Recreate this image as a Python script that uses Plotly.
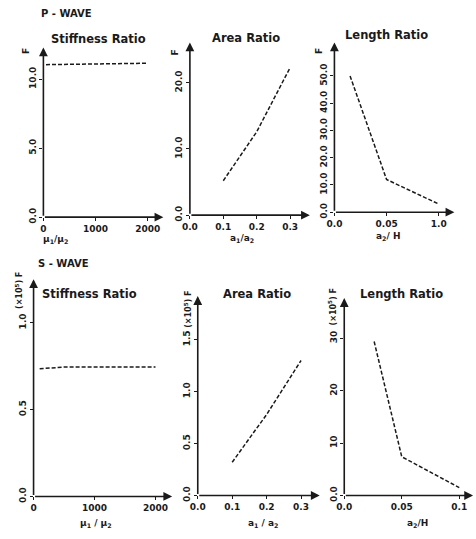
import plotly.graph_objects as go

W, H = 476, 539

# ---------------- data ----------------
p_stiff_x = [50, 500, 1000, 1500, 2000]
p_stiff_y = [11.05, 11.08, 11.1, 11.12, 11.15]
p_area_x = [0.1, 0.2, 0.3]
p_area_y = [5.2, 12.6, 22.3]
p_len_x = [0.015, 0.05, 0.1]
p_len_y = [50.0, 12.0, 3.0]

s_stiff_x = [100, 500, 1000, 1500, 2000]
s_stiff_y = [0.735, 0.745, 0.745, 0.745, 0.745]
s_area_x = [0.1, 0.2, 0.3]
s_area_y = [0.32, 0.78, 1.30]
s_len_x = [0.026, 0.05, 0.1]
s_len_y = [29.4, 7.4, 1.5]

# tick labels
p_stiff_xt = ([0, 1000, 2000], ["0", "1000", "2000"])
p_stiff_yt = ([0, 5, 10], ["0.0", "5.0", "10.0"])
p_area_xt = ([0, 0.1, 0.2, 0.3], ["0.0", "0.1", "0.2", "0.3"])
p_area_yt = ([0, 10, 20], ["0.0", "10.0", "20.0"])
p_len_xt = ([0, 0.05, 0.1], ["0.0", "0.05", "1.0"])
p_len_yt = ([0, 10, 20, 30, 40, 50], ["0.0", "10.0", "20.0", "30.0", "40.0", "50.0"])
s_stiff_xt = ([0, 1000, 2000], ["0", "1000", "2000"])
s_stiff_yt = ([0, 0.5, 1.0], ["0.0", "0.5", "1.0"])
s_area_xt = ([0, 0.1, 0.2, 0.3], ["0.0", "0.1", "0.2", "0.3"])
s_area_yt = ([0, 0.5, 1.0, 1.5], ["0.0", "0.5", "1.0", "1.5"])
s_len_xt = ([0, 0.05, 0.1], ["0.0", "0.05", "0.1"])
s_len_yt = ([0, 10, 20, 30], ["0.0", "10", "20", "30"])

FONT = "DejaVu Sans"
INK = "#1a1a1a"

def px_x(v):
    return v / W

def px_y(v):
    return 1 - v / H

# panel layout: (x data, y data, xticks, yticks, x px domain, y px domain (top,bottom), xrange, yrange)
panels = [
    (p_stiff_x, p_stiff_y, p_stiff_xt, p_stiff_yt, (36, 158), (48, 220), (0, 2300), (0, 12.3)),
    (p_area_x, p_area_y, p_area_xt, p_area_yt, (185, 307), (43, 218), (0, 0.359), (0, 26.1)),
    (p_len_x, p_len_y, p_len_xt, p_len_yt, (332, 454), (43, 215), (0, 0.115), (0, 62.3)),
    (s_stiff_x, s_stiff_y, s_stiff_xt, s_stiff_yt, (26, 167), (283, 503), (0, 2274), (0, 1.25)),
    (s_area_x, s_area_y, s_area_xt, s_area_yt, (193, 317), (300, 502), (0, 0.354), (0, 1.92)),
    (s_len_x, s_len_y, s_len_xt, s_len_yt, (342, 473), (302, 502), (0, 0.112), (0, 37.7)),
]

fig = go.Figure()
layout = dict(
    width=W, height=H, margin=dict(l=0, r=0, t=0, b=0),
    paper_bgcolor="white", plot_bgcolor="white", showlegend=False,
    font=dict(family=FONT, color=INK, size=9),
)
annotations = []

for i, (xs, ys, xt, yt, xd, yd, xr, yr) in enumerate(panels, start=1):
    xa = "x" if i == 1 else f"x{i}"
    ya = "y" if i == 1 else f"y{i}"
    fig.add_trace(go.Scatter(x=xs, y=ys, mode="lines", xaxis=xa, yaxis=ya,
                             line=dict(color=INK, width=1.5, dash="4px,2px"), cliponaxis=False))
    layout["xaxis" if i == 1 else f"xaxis{i}"] = dict(
        domain=[px_x(xd[0]), px_x(xd[1])], range=list(xr), anchor=ya,
        showgrid=False, zeroline=False, showline=False,
        tickmode="array", tickvals=xt[0], ticktext=[f"<b>{t}</b>" for t in xt[1]],
        ticks="outside", ticklen=3, tickcolor=INK, tickfont=dict(size=9, family=FONT, color=INK),
        fixedrange=True,
    )
    layout["yaxis" if i == 1 else f"yaxis{i}"] = dict(
        domain=[px_y(yd[1]), px_y(yd[0])], range=list(yr), anchor=xa,
        showgrid=False, zeroline=False, showline=False,
        tickmode="array", tickvals=yt[0], ticktext=[f"<b>{t}</b>" for t in yt[1]],
        ticks="outside", ticklen=3, tickcolor=INK, tickangle=-90,
        tickfont=dict(size=9, family=FONT, color=INK), fixedrange=True,
    )
    # axis arrows
    annotations.append(dict(xref=xa, yref=ya, axref=xa, ayref=ya, x=xr[1], y=0, ax=0, ay=0,
                            showarrow=True, arrowhead=2, arrowsize=1.1, arrowwidth=1.6,
                            arrowcolor=INK, text=""))
    annotations.append(dict(xref=xa, yref=ya, axref=xa, ayref=ya, x=0, y=yr[1], ax=0, ay=0,
                            showarrow=True, arrowhead=2, arrowsize=1.1, arrowwidth=1.6,
                            arrowcolor=INK, text=""))

def txt(text, x, y, size=10, angle=0):
    annotations.append(dict(xref="paper", yref="paper", x=px_x(x), y=px_y(y), text=text,
                            showarrow=False, textangle=angle, xanchor="center", yanchor="middle",
                            font=dict(family=FONT, size=size, color=INK)))

# section and panel titles
txt("<b>P - WAVE</b>", 60, 14, 10)
txt("<b>S - WAVE</b>", 56, 267, 10)
txt("<b>Stiffness Ratio</b>", 92, 40, 11.5)
txt("<b>Area Ratio</b>", 242, 38, 11.5)
txt("<b>Length Ratio</b>", 385, 35, 11.5)
txt("<b>Stiffness Ratio</b>", 83, 298, 11.5)
txt("<b>Area Ratio</b>", 253, 298, 11.5)
txt("<b>Length Ratio</b>", 400, 298, 11.5)

# y axis titles
txt("<b>F</b>", 19, 52, 9, -90)
txt("<b>F</b>", 170, 53, 9, -90)
txt("<b>F</b>", 317, 52, 9, -90)
txt("<b>(×10<sup>5</sup>) F</b>", 11, 294, 8, -90)
txt("<b>(×10<sup>5</sup>) F</b>", 183, 313, 8, -90)
txt("<b>(×10<sup>5</sup>) F</b>", 330, 311, 8, -90)

# x axis titles
txt("<b>μ<sub>1</sub>/μ<sub>2</sub></b>", 48, 243, 9)
txt("<b>a<sub>1</sub>/a<sub>2</sub></b>", 238, 242, 9)
txt("<b>a<sub>2</sub>/ H</b>", 386, 240, 9)
txt("<b>μ<sub>1</sub> / μ<sub>2</sub></b>", 89, 530, 9)
txt("<b>a<sub>1</sub> / a<sub>2</sub></b>", 260, 530, 9)
txt("<b>a<sub>2</sub>/H</b>", 416, 530, 9)

layout["annotations"] = annotations
fig.update_layout(**layout)
fig.write_html("out.html")
